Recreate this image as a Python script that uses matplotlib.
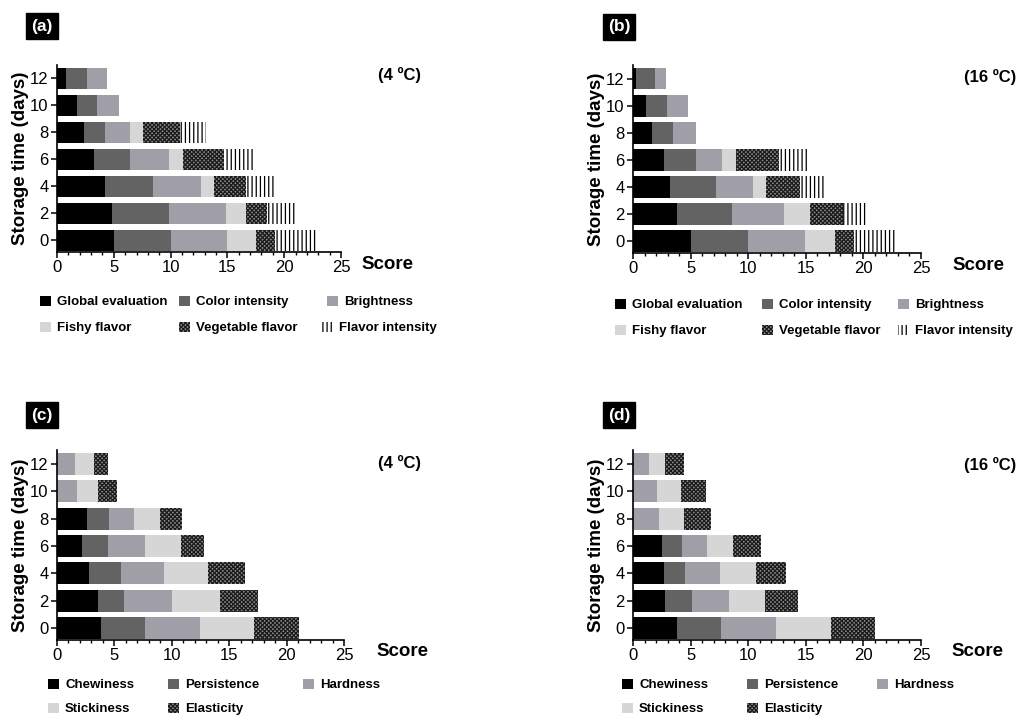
import matplotlib
matplotlib.use("Agg")
import matplotlib.pyplot as plt
from matplotlib.patches import Patch
from matplotlib.ticker import MultipleLocator
import numpy as np

plt.rcParams['font.family'] = ['Liberation Sans', 'DejaVu Sans']
plt.rcParams['hatch.linewidth'] = 0.9

days = ["0", "2", "4", "6", "8", "10", "12"]

# Panel (a) 4 ºC - sensory attributes
a_global = [5.0, 4.8, 4.2, 3.3, 2.4, 1.75, 0.8]
a_color = [5.0, 5.05, 4.25, 3.15, 1.8, 1.75, 1.85]
a_bright = [5.0, 5.0, 4.2, 3.45, 2.2, 2.0, 1.75]
a_fishy = [2.5, 1.8, 1.15, 1.15, 1.15, 0, 0]
a_veg = [1.7, 1.8, 2.8, 3.65, 3.3, 0, 0]
a_flav = [3.7, 2.55, 2.65, 2.6, 2.3, 0, 0]

# Panel (b) 16 ºC - sensory attributes
b_global = [5.0, 3.8, 3.2, 2.65, 1.65, 1.15, 0.3]
b_color = [4.95, 4.8, 4.0, 2.8, 1.85, 1.8, 1.6]
b_bright = [5.0, 4.55, 3.2, 2.25, 1.95, 1.85, 1.0]
b_fishy = [2.6, 2.25, 1.15, 1.2, 0, 0, 0]
b_veg = [1.6, 2.85, 2.95, 3.8, 0, 0, 0]
b_flav = [3.75, 2.1, 2.05, 2.6, 0, 0, 0]

# Panel (c) 4 ºC - texture attributes
c_chew = [3.8, 3.6, 2.75, 2.2, 2.65, 0, 0]
c_pers = [3.85, 2.2, 2.85, 2.25, 1.9, 0, 0]
c_hard = [4.8, 4.2, 3.75, 3.2, 2.2, 1.7, 1.6]
c_stick = [4.75, 4.2, 3.8, 3.15, 2.2, 1.85, 1.6]
c_elast = [3.85, 3.35, 3.2, 2.0, 1.95, 1.65, 1.25]

# Panel (d) 16 ºC - texture attributes
d_chew = [3.8, 2.8, 2.65, 2.55, 0, 0, 0]
d_pers = [3.85, 2.3, 1.85, 1.7, 0, 0, 0]
d_hard = [4.75, 3.2, 3.05, 2.2, 2.25, 2.1, 1.35]
d_stick = [4.8, 3.2, 3.1, 2.2, 2.2, 2.05, 1.45]
d_elast = [3.8, 2.8, 2.65, 2.5, 2.35, 2.15, 1.65]

sens_labels = ["Global evaluation", "Color intensity", "Brightness",
               "Fishy flavor", "Vegetable flavor", "Flavor intensity"]
tex_labels = ["Chewiness", "Persistence", "Hardness", "Stickiness", "Elasticity"]

styles = [
    dict(facecolor='#000000', edgecolor='#000000', hatch=None),
    dict(facecolor='#636363', edgecolor='#636363', hatch=None),
    dict(facecolor='#a09fa7', edgecolor='#a09fa7', hatch=None),
    dict(facecolor='#d6d6d6', edgecolor='#d6d6d6', hatch=None),
    dict(facecolor='#8c8c8c', edgecolor='#1a1a1a', hatch='xxxxxxxx'),
    dict(facecolor='#ffffff', edgecolor='#000000', hatch='||||'),
]

fig = plt.figure(figsize=(10.16, 7.16), dpi=100)
W, H = 1016.0, 716.0


def ax_at(l, t, r, b):
    return fig.add_axes([l / W, 1 - b / H, (r - l) / W, (b - t) / H])


def draw(ax, series, labels):
    y = np.arange(len(days))
    left = np.zeros(len(days))
    for vals, lab, st in zip(series, labels, styles):
        v = np.array(vals)
        ax.barh(y, v, left=left, height=0.8, color=st['facecolor'],
                edgecolor=st['edgecolor'], hatch=st['hatch'], linewidth=0,
                label=lab)
        left = left + v
    ax.set_xlim(0, 25)
    ax.set_ylim(-0.43, 6.5)
    ax.set_yticks(y)
    ax.set_yticklabels(days)
    ax.xaxis.set_major_locator(MultipleLocator(5))
    ax.xaxis.set_minor_locator(MultipleLocator(1))
    for s in ['top', 'right']:
        ax.spines[s].set_visible(False)
    for s in ['left', 'bottom']:
        ax.spines[s].set_linewidth(1.2)
    ax.tick_params(axis='both', which='major', labelsize=12, length=4,
                   width=1.1, pad=2)
    ax.tick_params(axis='x', which='minor', length=2.5, width=1.0)
    ax.set_ylabel("Storage time (days)", fontsize=13.5, fontweight='bold',
                  labelpad=1)


def legend_items(labels, positions):
    for lab, st, (px, py) in zip(labels, styles, positions):
        h = Patch(facecolor=st['facecolor'], edgecolor=st['edgecolor'],
                  hatch=st['hatch'], linewidth=0)
        fig.legend([h], [lab], loc='center left',
                   bbox_to_anchor=(px / W, 1 - py / H), frameon=False,
                   prop=dict(size=9.5, weight='bold'), handlelength=0.8,
                   handleheight=0.8, handletextpad=0.5, borderpad=0,
                   borderaxespad=0)


def panel_label(x, y, s):
    fig.text(x / W, 1 - y / H, s, color='white', fontsize=12.5,
             fontweight='bold', ha='center', va='center',
             bbox=dict(boxstyle='square,pad=0.3', facecolor='black',
                       edgecolor='black'))


ax_a = ax_at(57, 65, 341, 252)
draw(ax_a, [a_global, a_color, a_bright, a_fishy, a_veg, a_flav], sens_labels)
ax_b = ax_at(633, 65, 921, 253)
draw(ax_b, [b_global, b_color, b_bright, b_fishy, b_veg, b_flav], sens_labels)
ax_c = ax_at(57, 450, 344, 640)
draw(ax_c, [c_chew, c_pers, c_hard, c_stick, c_elast], tex_labels)
ax_d = ax_at(633, 450, 921, 640)
draw(ax_d, [d_chew, d_pers, d_hard, d_stick, d_elast], tex_labels)

# Score labels and temperature labels
for x, y in [(387, 265), (978, 266), (402, 651), (977, 651)]:
    fig.text(x / W, 1 - y / H, "Score", fontsize=13.5, fontweight='bold',
             ha='center', va='center')
for x, y, s in [(400, 75, "(4 ºC)"), (990, 77, "(16 ºC)"),
                (400, 463, "(4 ºC)"), (990, 465, "(16 ºC)")]:
    fig.text(x / W, 1 - y / H, s, fontsize=12, fontweight='bold',
             ha='center', va='center')

panel_label(42, 26, "(a)")
panel_label(619, 27, "(b)")
panel_label(42, 415, "(c)")
panel_label(619, 415, "(d)")

legend_items(sens_labels, [(40, 302), (179, 302), (327, 302),
                           (40, 328), (179, 328), (322, 328)])
legend_items(sens_labels, [(615, 305), (762, 305), (898, 305),
                           (615, 331), (762, 331), (898, 331)])
legend_items(tex_labels, [(48, 685), (168, 685), (303, 685),
                          (48, 709), (168, 709)])
legend_items(tex_labels, [(622, 685), (747, 685), (877, 685),
                          (622, 709), (747, 709)])

fig.savefig("out.png", dpi=100)
